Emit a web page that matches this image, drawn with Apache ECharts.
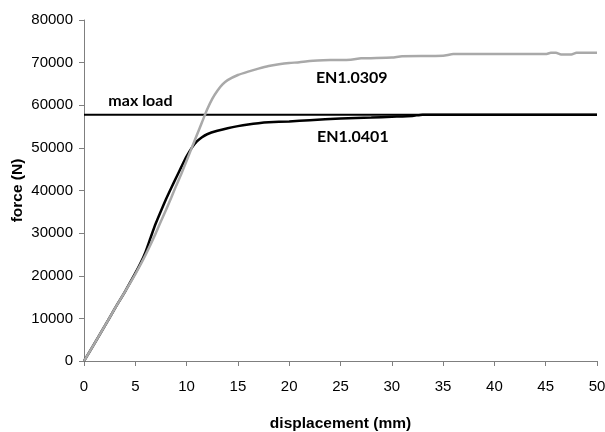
<!DOCTYPE html>
<html>
<head>
<meta charset="utf-8">
<script src="https://cdn.jsdelivr.net/npm/echarts@6/dist/echarts.min.js"></script>
<style>html,body{margin:0;padding:0;background:#fff;}#c{width:605px;height:432px;}</style>
</head>
<body>
<div id="c"></div>
<script>
// Data
var xTicks = [0, 5, 10, 15, 20, 25, 30, 35, 40, 45, 50];
var yTicks = [0, 10000, 20000, 30000, 40000, 50000, 60000, 70000, 80000];
var maxLoad = 57800;

var en1_0309 = [
  [0,0],[1,4000],[2,8100],[3,12300],[4,16300],[5,20400],[6,24900],[7,30000],[7.5,32800],[8,35500],
  [8.5,38300],[9,41200],[9.5,44000],[10,47000],[10.5,50000],[11,53000],[11.5,56000],[12,59000],
  [12.5,61500],[13,63400],[13.5,64900],[14,65900],[15,67100],[16,67900],[17,68600],[18,69200],
  [19,69600],[20,69900],[21,70100],[22,70400],[24,70600],[26,70700],[27,71000],[30,71200],
  [31,71500],[35,71600],[36,72000],[45,72000],[45.5,72300],[46,72300],[46.5,71900],[47.5,71900],
  [48,72300],[50,72300]
];
var en1_0401 = [
  [0,0],[1,4000],[2,8100],[3,12300],[4,16300],[5,20600],[5.5,22900],[6,25600],[6.5,29000],[7,32300],
  [7.5,35200],[8,38000],[8.5,40600],[9,43100],[9.5,45600],[10,48000],[10.5,50000],[11,51500],
  [11.5,52500],[12,53200],[13,54000],[14,54600],[15,55100],[16,55500],[17,55800],[18,56000],
  [20,56200],[22,56500],[25,56900],[28,57100],[30,57300],[32,57500],[33,57800],[50,57800]
];
var maxLoadLine = [[0, maxLoad], [50, maxLoad]];

var labels = [
  {text: 'max load', coord: [5.5, 61000]},
  {text: 'EN1.0309', coord: [26.1, 66400]},
  {text: 'EN1.0401', coord: [26.2, 52500]}
];

var chart = echarts.init(document.getElementById('c'));
var axisColor = '#7f7f7f';
var tickFont = '"Liberation Sans", Arial, sans-serif';
chart.setOption({
  animation: false,
  backgroundColor: '#ffffff',
  grid: {left: 84, right: 8, top: 20, bottom: 71, containLabel: false, outerBoundsMode: 'none'},
  xAxis: {
    type: 'value', min: 0, max: 50, interval: 5,
    name: 'displacement (mm)', nameLocation: 'middle', nameGap: 55, nameMoveOverlap: false,
    nameTextStyle: {fontFamily: 'Liberation Sans', fontWeight: 'bold', fontSize: 15.5, color: '#000'},
    axisLine: {show: true, lineStyle: {color: axisColor, width: 1}},
    axisTick: {show: true, length: 5, lineStyle: {color: axisColor}},
    axisLabel: {margin: 18, fontFamily: tickFont, fontSize: 15, color: '#000',
      formatter: function (v) { return xTicks.indexOf(v) >= 0 ? String(v) : ''; }},
    splitLine: {show: false}
  },
  yAxis: {
    type: 'value', min: 0, max: 80000, interval: 10000,
    name: 'force (N)', nameLocation: 'middle', nameGap: 58, nameMoveOverlap: false,
    nameTextStyle: {fontFamily: 'Liberation Sans', fontWeight: 'bold', fontSize: 15.5, color: '#000'},
    axisLine: {show: true, lineStyle: {color: axisColor, width: 1}},
    axisTick: {show: true, length: 5, lineStyle: {color: axisColor}},
    axisLabel: {margin: 11, fontFamily: tickFont, fontSize: 15, color: '#000',
      formatter: function (v) { return yTicks.indexOf(v) >= 0 ? String(v) : ''; }},
    splitLine: {show: false}
  },
  series: [
    {
      type: 'line', name: 'max load', data: maxLoadLine, symbol: 'none',
      lineStyle: {color: '#000', width: 2}, z: 1
    },
    {
      type: 'line', name: 'EN1.0401', data: en1_0401, symbol: 'none', smooth: 0.2,
      lineStyle: {color: '#000', width: 2.5}, z: 2
    },
    {
      type: 'line', name: 'EN1.0309', data: en1_0309, symbol: 'none', smooth: 0.2,
      lineStyle: {color: '#a9a9a9', width: 2.5}, z: 3,
      markPoint: {
        symbol: 'circle', symbolSize: 0, silent: true,
        label: {show: true, position: 'inside', color: '#000', fontFamily: 'Lato, "Open Sans", sans-serif',
          fontWeight: 'bold', fontSize: 16, formatter: function (p) { return p.name; }},
        data: labels.map(function (l) { return {name: l.text, coord: l.coord}; })
      }
    }
  ]
});
</script>
</body>
</html>
